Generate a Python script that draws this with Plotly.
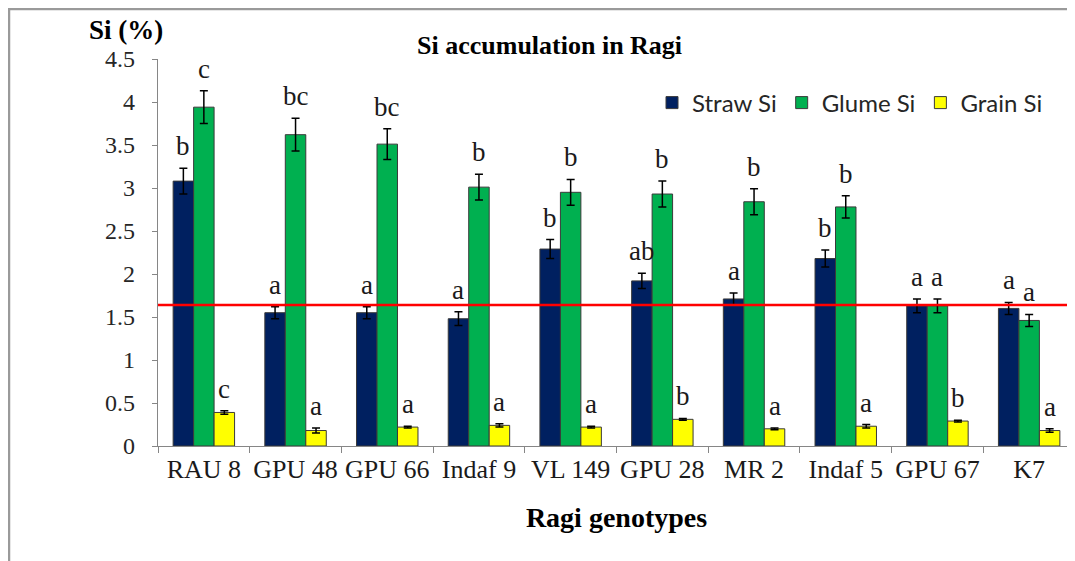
import plotly.graph_objects as go

categories = ["RAU 8", "GPU 48", "GPU 66", "Indaf 9", "VL 149", "GPU 28", "MR 2", "Indaf 5", "GPU 67", "K7"]

straw = [3.08, 1.55, 1.55, 1.48, 2.29, 1.92, 1.71, 2.18, 1.63, 1.60]
straw_err = [0.15, 0.07, 0.07, 0.08, 0.11, 0.09, 0.07, 0.10, 0.08, 0.07]
straw_letters = ["b", "a", "a", "a", "b", "ab", "a", "b", "a", "a"]

glume = [3.94, 3.62, 3.51, 3.01, 2.95, 2.93, 2.84, 2.78, 1.63, 1.46]
glume_err = [0.19, 0.19, 0.18, 0.15, 0.15, 0.15, 0.15, 0.13, 0.08, 0.07]
glume_letters = ["c", "bc", "bc", "b", "b", "b", "b", "b", "a", "a"]

grain = [0.39, 0.18, 0.22, 0.24, 0.22, 0.31, 0.20, 0.23, 0.29, 0.18]
grain_err = [0.02, 0.03, 0.01, 0.02, 0.01, 0.01, 0.01, 0.02, 0.01, 0.02]
grain_letters = ["c", "a", "a", "a", "a", "b", "a", "a", "b", "a"]

reference_line = 1.64

SERIF = "Liberation Serif, Times New Roman, serif"
SANS = "Lato, Liberation Sans, Arial, sans-serif"

series = [
    ("Straw Si", straw, straw_err, straw_letters, "#002060"),
    ("Glume Si", glume, glume_err, glume_letters, "#00B050"),
    ("Grain Si", grain, grain_err, grain_letters, "#FFFF00"),
]

W, H = 1067, 553
ML, MT, MB = 150, 51, 115
PW = W - ML
PH = H - MT - MB

BARGAP = 0.33
fig = go.Figure()
for name, vals, errs, _, color in series:
    fig.add_trace(go.Bar(
        name=name, x=categories, y=vals,
        marker=dict(color=color, line=dict(color="#3a3a3a", width=1)),
        error_y=dict(type="data", array=errs, visible=True, color="black", thickness=1.5, width=4),
    ))

w = (1 - BARGAP) / 3
annotations = []
for k, (name, vals, errs, letters, color) in enumerate(series):
    off = (k - 1) * w
    for i, (v, e, t) in enumerate(zip(vals, errs, letters)):
        annotations.append(dict(
            x=i + off, y=v + e, xref="x", yref="y", text=t, showarrow=False,
            yanchor="bottom", yshift=5,
            font=dict(family=SERIF, size=27, color="#1a1a1a"),
        ))

annotations.append(dict(
    x=(541 - ML) / PW, y=(MT + PH - 37) / PH, xref="paper", yref="paper",
    text="<b>Si accumulation in Ragi</b>",
    showarrow=False, xanchor="center", yanchor="middle",
    font=dict(family=SERIF, size=26, color="black"),
))
annotations.append(dict(
    x=(118 - ML) / PW, y=(MT + PH - 22) / PH, xref="paper", yref="paper", text="<b>Si (%)</b>",
    showarrow=False, xanchor="center", yanchor="middle",
    font=dict(family=SERIF, size=27, color="black"),
))

fig.update_layout(
    width=W, height=H,
    margin=dict(l=ML, r=0, t=MT, b=MB),
    paper_bgcolor="white", plot_bgcolor="white",
    barmode="group", bargap=BARGAP, bargroupgap=0,
    showlegend=True,
    legend=dict(
        orientation="h", x=(644 - ML) / PW, y=(MT + PH - 95) / PH, xanchor="left", yanchor="middle",
        font=dict(family=SANS, size=24, color="#262626"),
        bgcolor="rgba(0,0,0,0)", itemwidth=30, tracegroupgap=0,
    ),
    annotations=annotations,
    shapes=[
        dict(type="line", xref="paper", yref="y", x0=0, x1=1, y0=reference_line, y1=reference_line,
             line=dict(color="#FF0000", width=2.5)),
        dict(type="rect", xref="paper", yref="paper", x0=(1 - ML) / PW, x1=1.2,
             y0=-0.6, y1=(MT + PH - 1) / PH,
             line=dict(color="#9a9a9a", width=2.5), fillcolor="rgba(0,0,0,0)", layer="below"),
    ],
    xaxis=dict(
        type="category", showline=True, linecolor="#868686", linewidth=1.2,
        ticks="outside", tickson="boundaries", ticklen=6, tickcolor="#868686",
        tickangle=0,
        tickfont=dict(family=SERIF, size=26, color="#1a1a1a"),
        title=dict(text="<b>Ragi genotypes</b>", font=dict(family=SERIF, size=28, color="black"), standoff=24),
        showgrid=False,
    ),
    yaxis=dict(
        range=[0, 4.5], dtick=0.5, showline=True, linecolor="#868686", linewidth=1.2,
        ticks="outside", ticklen=5, tickcolor="#868686",
        tickfont=dict(family=SERIF, size=24, color="#262626"),
        ticklabelstandoff=12,
        showgrid=False, zeroline=False,
    ),
)

fig.write_html("out.html")
